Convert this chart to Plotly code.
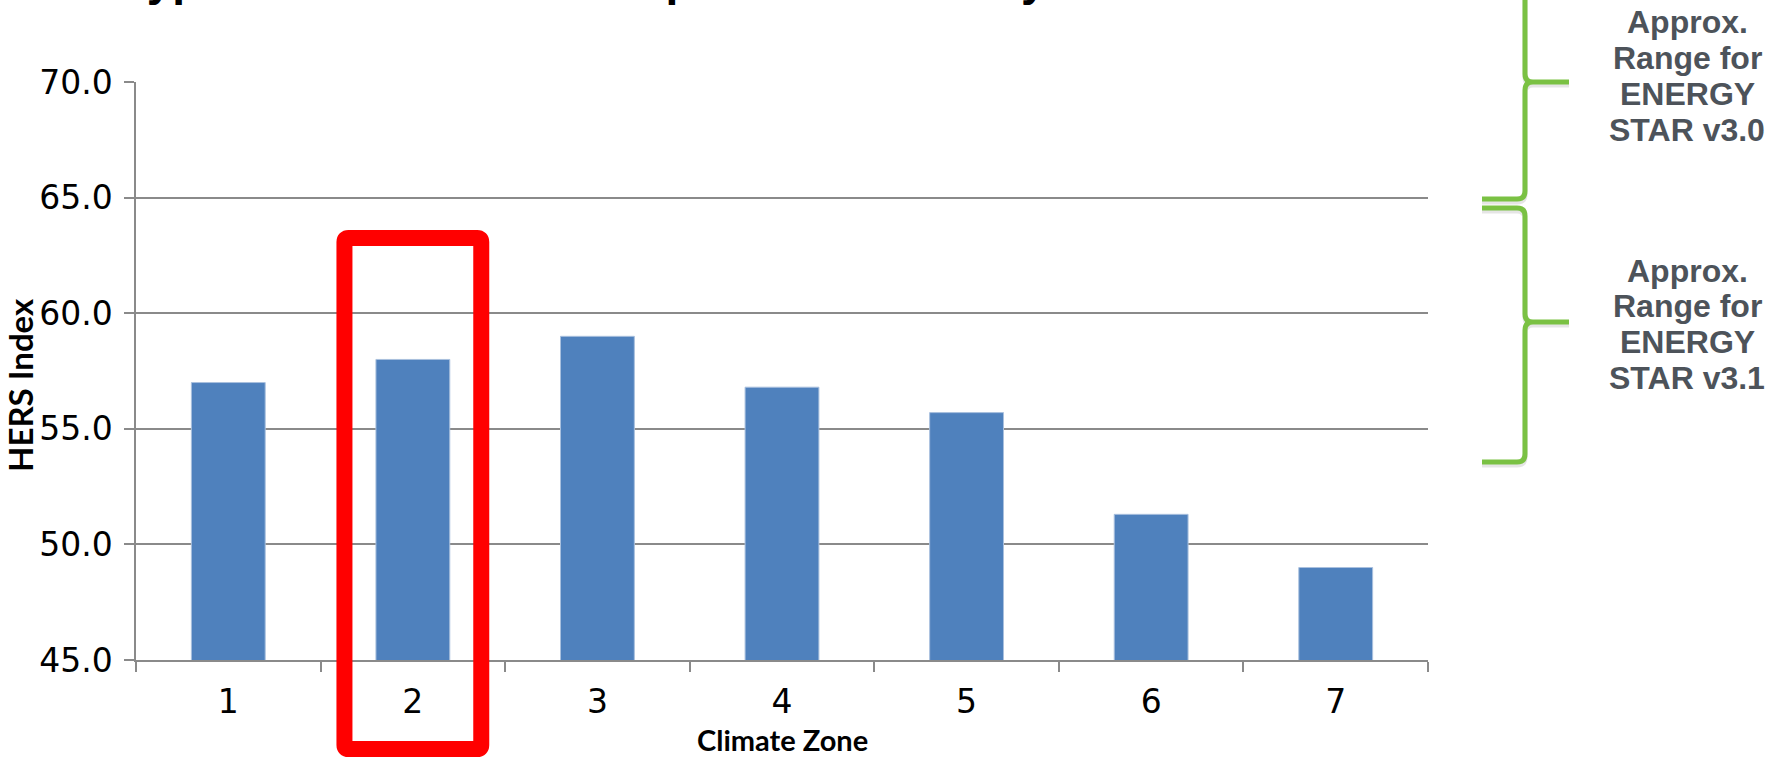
import plotly.graph_objects as go

# Chart data
zones = ["1", "2", "3", "4", "5", "6", "7"]
hers_index = [57.0, 58.0, 59.0, 56.8, 55.7, 51.3, 49.0]
y_ticks = [45, 50, 55, 60, 65, 70]
highlight_zone = "2"

# Page / plot geometry (pixels)
PAGE_W, PAGE_H = 1768, 760
M_L, M_R, M_T, M_B = 136, 340, 82, 100
PLOT_W = PAGE_W - M_L - M_R
PLOT_H = PAGE_H - M_T - M_B

GRID = "#8A8A8A"
BAR = "#4F81BD"
GREEN = "#7AC143"
NOTE_GREY = "#4D535A"
TICK_FONT = "DejaVu Sans, Verdana, sans-serif"
LABEL_FONT = "Lato, Liberation Sans, sans-serif"
BOLD_SANS = "Liberation Sans, Arial, sans-serif"


def fx(px):
    """Page x pixel -> paper coordinate."""
    return (px - M_L) / PLOT_W


def fy(py):
    """Page y pixel -> paper coordinate."""
    return (M_T + PLOT_H - py) / PLOT_H


def path_px(cmds):
    """Build an SVG path in paper coords from (cmd, [(x, y), ...]) in page pixels."""
    out = []
    for cmd, pts in cmds:
        out.append(cmd + " ".join(f"{fx(x):.5f},{fy(y):.5f}" for x, y in pts))
    return " ".join(out)


fig = go.Figure()
fig.add_trace(go.Bar(
    x=zones, y=hers_index,
    marker=dict(color=BAR, line=dict(color="#A9C0DE", width=1)),
    hoverinfo="x+y",
))

shapes = []

# Red highlight box around the chosen climate zone
idx = zones.index(highlight_zone)
cat_w = PLOT_W / len(zones)
cx = M_L + (idx + 0.5) * cat_w
hw = 68.4
x0, x1 = cx - hw, cx + hw
y0, y1 = 238, 749
r = 4
box = path_px([
    ("M", [(x0 + r, y0)]), ("L", [(x1 - r, y0)]), ("Q", [(x1, y0), (x1, y0 + r)]),
    ("L", [(x1, y1 - r)]), ("Q", [(x1, y1), (x1 - r, y1)]),
    ("L", [(x0 + r, y1)]), ("Q", [(x0, y1), (x0, y1 - r)]),
    ("L", [(x0, y0 + r)]), ("Q", [(x0, y0), (x0 + r, y0)]), ("Z", []),
])
shapes.append(dict(type="path", path=box, xref="paper", yref="paper",
                   line=dict(color="#FF0000", width=16), layer="above"))


def brace(top, mid, bottom, x_end=1482, x_bar=1525, x_tip=1569, k=8):
    return path_px([
        ("M", [(x_end, top)]), ("L", [(x_bar - k, top)]),
        ("Q", [(x_bar, top), (x_bar, top + k)]),
        ("L", [(x_bar, mid - k)]), ("Q", [(x_bar, mid), (x_bar + k, mid)]),
        ("L", [(x_tip, mid)]), ("L", [(x_bar + k, mid)]),
        ("Q", [(x_bar, mid), (x_bar, mid + k)]),
        ("L", [(x_bar, bottom - k)]), ("Q", [(x_bar, bottom), (x_bar - k, bottom)]),
        ("L", [(x_end, bottom)]),
    ])


for top, mid, bottom in [(-35, 82, 199), (208, 322, 462)]:
    shapes.append(dict(type="path", path=brace(top + 3, mid + 3, bottom + 3),
                       xref="paper", yref="paper",
                       line=dict(color="rgba(0,0,0,0.10)", width=5), layer="above"))
    shapes.append(dict(type="path", path=brace(top, mid, bottom),
                       xref="paper", yref="paper",
                       line=dict(color=GREEN, width=5), layer="above"))

annotations = []
note_lines = {
    22.5: ["Approx.", "Range for", "ENERGY", "STAR v3.0"],
    270.6: ["Approx.", "Range for", "ENERGY", "STAR v3.1"],
}
NOTE_SIZE = 32
for first_center, lines in note_lines.items():
    for i, txt in enumerate(lines):
        annotations.append(dict(
            text=f"<b>{txt}</b>", xref="paper", yref="paper",
            x=fx(1687), y=fy(first_center + i * 35.7),
            xanchor="center", yanchor="middle", showarrow=False,
            font=dict(family=BOLD_SANS, size=NOTE_SIZE, color=NOTE_GREY),
        ))

# Chart heading, running off the top edge of the page
HEAD_SIZE = 46
annotations.append(dict(
    text="<b>Typical HERS Index Compliance Levels by Climate Zone</b>",
    xref="paper", yref="paper", x=fx(120), y=fy(-5 - 0.3465 * HEAD_SIZE),
    xanchor="left", yanchor="middle", showarrow=False,
    font=dict(family=BOLD_SANS, size=HEAD_SIZE, color="#000000"),
))

# Axis titles
annotations.append(dict(
    text="<b>HERS Index</b>", xref="paper", yref="paper",
    x=fx(20), y=fy(385), xanchor="center", yanchor="middle",
    textangle=-90, showarrow=False,
    font=dict(family=LABEL_FONT, size=33, color="black"),
))
annotations.append(dict(
    text="<b>Climate Zone</b>", xref="paper", yref="paper",
    x=0.5, y=fy(740), xanchor="center", yanchor="middle", showarrow=False,
    borderpad=0,
    font=dict(family=LABEL_FONT, size=29, color="black"),
))

fig.update_layout(
    width=PAGE_W, height=PAGE_H,
    margin=dict(l=M_L, r=M_R, t=M_T, b=M_B, pad=0),
    paper_bgcolor="white", plot_bgcolor="white",
    bargap=0.6, showlegend=False,
    shapes=shapes, annotations=annotations,
    xaxis=dict(
        type="category", categoryorder="array", categoryarray=zones,
        showline=True, linecolor=GRID, linewidth=1.5,
        ticks="outside", ticklen=10, tickcolor=GRID, tickwidth=1.5, tickson="boundaries",
        showgrid=False, ticklabelstandoff=12,
        tickfont=dict(family=TICK_FONT, size=33, color="black"),
        automargin=False,
    ),
    yaxis=dict(
        range=[45, 70], tickvals=y_ticks, tickformat=".1f",
        showline=True, linecolor=GRID, linewidth=1.5,
        ticks="outside", ticklen=10, tickcolor=GRID, tickwidth=1.5,
        showgrid=True, gridcolor=GRID, gridwidth=1.5, zeroline=False,
        ticklabelstandoff=5,
        tickfont=dict(family=TICK_FONT, size=33, color="black"),
        automargin=False,
    ),
)

fig.write_html("out.html")
